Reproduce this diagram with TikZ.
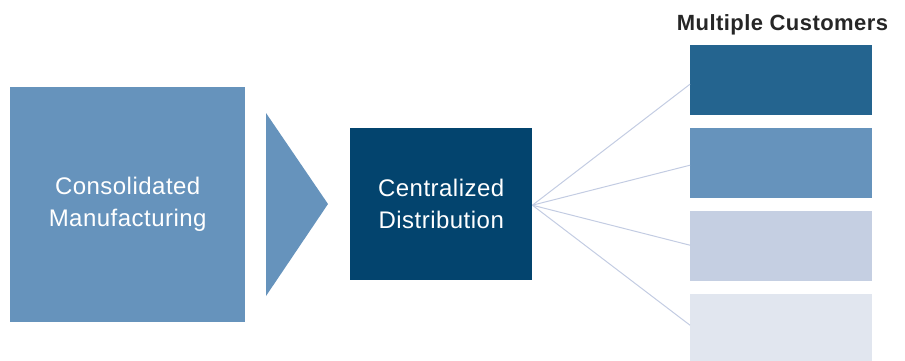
\documentclass[tikz,border=0pt]{standalone}
\usepackage{fontspec}
\setmainfont{Liberation Sans}
\newfontfamily\boxfont[LetterSpace=2]{Liberation Sans}
\newfontfamily\titlefont[LetterSpace=2]{Liberation Sans}
\definecolor{midblue}{HTML}{6693BC}
\definecolor{navy}{HTML}{03446E}
\definecolor{cust1}{HTML}{24648F}
\definecolor{cust3}{HTML}{C5CFE2}
\definecolor{cust4}{HTML}{E1E6EF}
\definecolor{fanline}{HTML}{C3CCE2}
\tikzset{
  blockbox/.style={fill=#1, draw=none, anchor=north west, inner sep=0pt, align=center,
    text=white, font=\boxfont\fontsize{24}{32}\selectfont},
  custbox/.style={fill=#1, draw=none, anchor=north west, inner sep=0pt,
    minimum width=182pt, minimum height=70pt},
  fan/.style={draw=fanline, line width=1pt}
}
\begin{document}
\begin{tikzpicture}[x=1pt,y=-1pt]
\useasboundingbox (0,0) rectangle (905,360);
\node[blockbox=midblue, minimum width=235pt, minimum height=235pt] (mfg) at (10,87)
  {Consolidated\\Manufacturing};
\path[fill=midblue] (266,113) -- (328,204) -- (266,296) -- cycle;
\node[blockbox=navy, minimum width=182pt, minimum height=152pt] (dist) at (350,128)
  {Centralized\\Distribution};
\node[anchor=base, font=\titlefont\bfseries\fontsize{22}{26}\selectfont, text=black!85, inner sep=0pt] (title) at (782.5,30) {Multiple Customers};
\node[custbox=cust1] (c1) at (690,45) {};
\node[custbox=midblue] (c2) at (690,128) {};
\node[custbox=cust3] (c3) at (690,211) {};
\node[custbox=cust4] (c4) at (690,294) {};
\coordinate (hub) at ([yshift=-1pt]dist.east);
\draw[fan] (hub) -- ([yshift=-4pt]c1.west);
\draw[fan] (hub) -- ([yshift=-2pt]c2.west);
\draw[fan] (hub) -- ([yshift=1pt]c3.west);
\draw[fan] (hub) -- ([yshift=4pt]c4.west);
\end{tikzpicture}
\end{document}
